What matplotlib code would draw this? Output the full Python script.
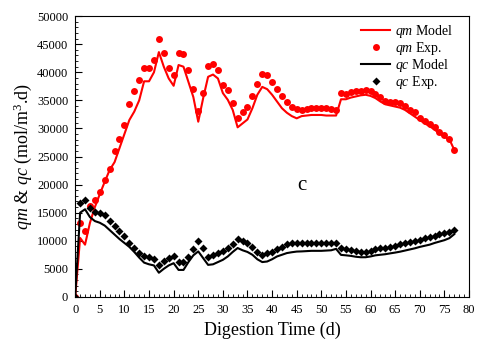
import numpy as np
import matplotlib.pyplot as plt
from matplotlib.ticker import MultipleLocator

plt.rcParams['font.family'] = 'Liberation Serif'
plt.rcParams['mathtext.fontset'] = 'custom'
plt.rcParams['mathtext.rm'] = 'Liberation Serif'
plt.rcParams['mathtext.it'] = 'Liberation Serif:italic'

days = np.arange(0, 78)

# methane production rate (mol/m3.d)
qm_exp = [0, 13150, 11700, 16100, 17300, 18700, 20800, 22800, 25900, 28100,
          30700, 34300, 36700, 38700, 40800, 40800, 42200, 46000, 43500, 40800,
          39600, 43400, 43200, 40500, 37000, 33100, 36300, 41100, 41500, 40500,
          37700, 36800, 34500, 31900, 33000, 33900, 35800, 38000, 39700, 39500,
          38300, 37000, 35800, 34800, 33900, 33400, 33200, 33400, 33600, 33700,
          33700, 33600, 33400, 33200, 36400, 36200, 36500, 36700, 36700, 36800,
          36600, 36200, 35600, 34900, 34800, 34700, 34500, 34000, 33300, 32900,
          31900, 31300, 30800, 30200, 29400, 28800, 28200, 26200]
qm_model = [0, 10500, 9300, 13200, 16000, 18300, 20500, 22600, 24000, 26500,
            29000, 31500, 33000, 35000, 38400, 38400, 40000, 43600, 41000, 38900,
            37600, 41300, 41000, 38300, 35600, 31200, 35400, 39200, 39600, 38900,
            36300, 35100, 33300, 30200, 30900, 31600, 33600, 36000, 37400, 37000,
            36000, 34800, 33600, 32800, 32200, 31800, 32200, 32300, 32400, 32400,
            32400, 32300, 32300, 32300, 35200, 35200, 35500, 35700, 35900, 36000,
            35800, 35400, 34800, 34300, 34100, 33900, 33700, 33300, 32700, 32100,
            31500, 30900, 30400, 29800, 29100, 28500, 28100, 26200]

# CO2 production rate (mol/m3.d)
qc_exp = [0, 16800, 17300, 15800, 15200, 14900, 14600, 13600, 12700, 11750,
          10860, 9670, 8670, 7890, 7300, 7180, 6710, 5700, 6410, 6890,
          7300, 6180, 6290, 7180, 8490, 9970, 8700, 7100, 7480, 7780,
          8190, 8670, 9380, 10270, 9970, 9560, 8960, 8070, 7480, 7780,
          8070, 8490, 8960, 9380, 9560, 9670, 9600, 9600, 9600, 9600,
          9600, 9600, 9600, 9670, 8670, 8490, 8370, 8190, 8070, 8070,
          8250, 8490, 8670, 8780, 8960, 9140, 9380, 9560, 9730, 9970,
          10150, 10450, 10630, 10860, 11160, 11450, 11630, 11930]
qc_model = [0, 15000, 15600, 14200, 13500, 13200, 12700, 11900, 11100, 10300,
            9600, 8900, 8000, 7000, 6100, 5800, 5600, 4300, 5000, 5600,
            6000, 4800, 4800, 6200, 7400, 8100, 6900, 5700, 5800, 6200,
            6600, 7200, 8000, 8700, 8300, 8000, 7500, 6700, 6200, 6300,
            6700, 7200, 7500, 7800, 7950, 8070, 8100, 8150, 8200, 8200,
            8200, 8250, 8300, 8550, 7480, 7400, 7300, 7150, 7060, 7060,
            7200, 7400, 7500, 7600, 7750, 7890, 8050, 8250, 8450, 8650,
            8900, 9100, 9300, 9600, 9850, 10100, 10450, 11160]

fig = plt.figure(figsize=(4.82, 3.44), dpi=100)
ax = fig.add_axes([0.156, 0.137, 0.817, 0.816])

ax.plot(days, qm_model, color='red', lw=1.5, label='$qm$ Model')
ax.plot(days, qm_exp, 'o', color='red', ms=5, mec='none', label='$qm$ Exp.')
ax.plot(days, qc_model, color='black', lw=1.5, label='$qc$ Model')
ax.plot(days, qc_exp, 'D', color='black', ms=4, mec='none', label='$qc$ Exp.')

ax.text(46, 19900, 'c', fontsize=15, ha='center', va='center')

ax.set_xlim(0, 80)
ax.set_ylim(0, 50000)
ax.xaxis.set_major_locator(MultipleLocator(5))
ax.xaxis.set_minor_locator(MultipleLocator(1))
ax.yaxis.set_major_locator(MultipleLocator(5000))
ax.yaxis.set_minor_locator(MultipleLocator(1000))
ax.tick_params(which='both', direction='in', labelsize=9, top=False, right=False)
ax.tick_params(which='major', length=5, pad=5)
ax.tick_params(which='minor', length=2.5)
ax.set_xlabel('Digestion Time (d)', fontsize=13, labelpad=4)
ax.set_ylabel('$qm$ & $qc$ (mol/m$^3$.d)', fontsize=13, labelpad=2)

ax.legend(loc='upper right', bbox_to_anchor=(0.968, 0.985), frameon=False,
          fontsize=10, handlelength=2.1, labelspacing=0.0, borderpad=0.2,
          borderaxespad=0.0, handletextpad=0.35)

fig.savefig('out.png', dpi=100)
